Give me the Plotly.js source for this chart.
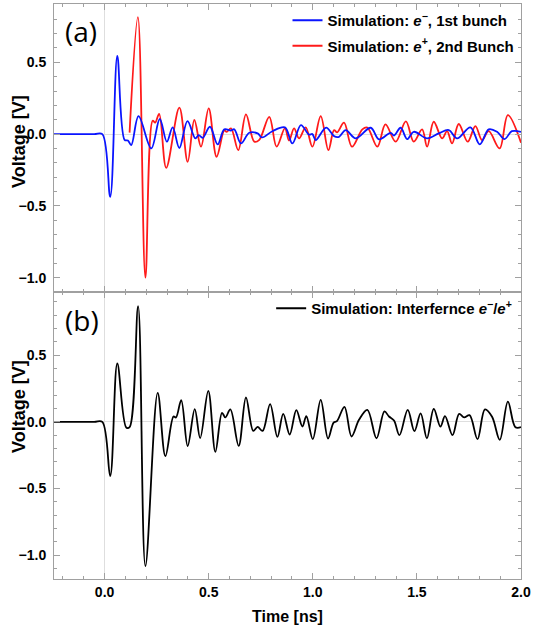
<!DOCTYPE html>
<html>
<head>
<meta charset="utf-8">
<script src="https://cdn.plot.ly/plotly-3.0.1.min.js"></script>
<style>html,body{margin:0;padding:0;background:#fff;}#chart{width:533px;height:629px;}</style>
</head>
<body>
<div id="chart"></div>
<script>
// ---- Data (time in ns, voltage in V) ----
const blueTime = [-0.243,-0.05,-0.011,0.027,0.061,0.096,0.112,0.128,0.163,0.224,0.265,0.299,0.327,0.359,0.398,0.436,0.452,0.471,0.506,0.543,0.575,0.607,0.623,0.655,0.695,0.735,0.756,0.806,0.866,0.902,0.943,0.982,0.998,1.014,1.064,1.102,1.126,1.158,1.206,1.278,1.318,1.374,1.39,1.422,1.453,1.485,1.549,1.605,1.653,1.693,1.757,1.802,1.845,1.885,1.921,1.956,2.0];
const blueVolt = [0,0,0,-0.437,0.544,-0.04,-0.045,-0.077,0.125,-0.1,0.105,-0.053,0.047,-0.097,0.09,-0.03,-0.007,-0.026,0.051,-0.072,0.033,0.025,0.033,-0.065,0.009,0.005,-0.023,0.02,0.047,-0.065,0.063,-0.004,0.0,-0.042,0.045,-0.014,-0.019,0.028,-0.03,0.044,-0.037,0.009,-0.01,0.044,-0.035,0.016,-0.03,0.005,0.028,-0.03,0.047,-0.072,0.033,0.016,-0.035,0.02,0.015];

const redTime = [0.12,0.16,0.196,0.231,0.243,0.262,0.296,0.359,0.399,0.431,0.463,0.5,0.538,0.575,0.586,0.607,0.642,0.679,0.719,0.743,0.791,0.826,0.866,0.886,0.91,0.934,0.966,0.998,1.038,1.075,1.102,1.117,1.15,1.188,1.238,1.262,1.31,1.349,1.398,1.447,1.485,1.525,1.549,1.581,1.621,1.645,1.669,1.701,1.744,1.781,1.813,1.845,1.897,1.937,2.0];
const redVolt = [0.01,0.814,-1.0,0.093,0.08,0.14,-0.235,0.184,-0.193,0.098,-0.088,0.179,-0.158,0.028,0.015,0.04,-0.112,0.137,-0.053,-0.04,0.12,-0.088,0.04,-0.045,0.04,-0.03,0.047,-0.088,0.125,-0.112,0.028,0.012,0.079,-0.088,0.033,0.045,-0.088,0.067,-0.053,0.088,-0.053,0.033,-0.088,0.086,-0.03,0.02,-0.065,0.07,-0.053,0.056,-0.042,0.02,-0.1,0.132,-0.06];

const sumTime = [-0.243,-0.05,-0.011,0.027,0.061,0.104,0.12,0.161,0.196,0.255,0.292,0.331,0.343,0.368,0.399,0.433,0.459,0.498,0.532,0.564,0.58,0.604,0.644,0.679,0.714,0.735,0.759,0.795,0.83,0.858,0.889,0.921,0.95,0.969,1.0,1.038,1.073,1.1,1.116,1.152,1.186,1.222,1.262,1.306,1.344,1.366,1.39,1.416,1.456,1.488,1.518,1.548,1.581,1.613,1.635,1.671,1.703,1.727,1.753,1.791,1.827,1.861,1.898,1.937,1.973,2.0];
const sumVolt = [0,0,0,-0.407,0.438,-0.042,-0.04,0.868,-1.083,0.218,-0.257,0.04,0.033,0.163,-0.182,0.095,-0.122,0.233,-0.225,0.068,0.033,0.093,-0.18,0.183,-0.068,-0.038,-0.068,0.133,-0.113,0.06,-0.095,0.088,-0.035,0.042,-0.13,0.165,-0.125,-0.005,0.005,0.113,-0.11,0.015,0.09,-0.123,0.078,0.04,0.01,-0.1,0.09,-0.07,0.063,-0.123,0.097,-0.035,0.043,-0.1,0.06,0.033,0.05,-0.13,0.093,0.038,-0.135,0.152,-0.04,-0.04];

const seriesNames = ["Simulation: <i>e</i><sup>−</sup>, 1st bunch", "Simulation: <i>e</i><sup>+</sup>, 2nd Bunch", "Simulation: Interfernce <i>e</i><sup>−</sup>/<i>e</i><sup>+</sup>"];
const xTickVals = [0, 0.5, 1.0, 1.5, 2.0];
const xTickText = ["0.0", "0.5", "1.0", "1.5", "2.0"];
const yTickVals = [-1.0, -0.5, 0.0, 0.5];
const yTickText = ["−1.0", "−0.5", "0.0", "0.5"];
const panelLabels = ["(a)", "(b)"];
const axisTitles = {x: "Time [ns]", y: "Voltage [V]"};

// ---- Styling ----
const frameColor = "#a0a0a0";
const sans = "Liberation Sans, Arial, sans-serif";
const tickFont = {family: sans, size: 14, color: "#000", weight: "bold"};
const legendFont = {family: sans, size: 15, color: "#000", weight: "bold"};

const traces = [
  {x: redTime, y: redVolt, xaxis: "x", yaxis: "y", mode: "lines", name: seriesNames[1],
   line: {color: "#ff1a1a", width: 1.8, shape: "spline", smoothing: 1}, legend: "legend", legendgroup: "b", legendrank: 2},
  {x: blueTime, y: blueVolt, xaxis: "x", yaxis: "y", mode: "lines", name: seriesNames[0],
   line: {color: "#0a14ff", width: 1.8, shape: "spline", smoothing: 1}, legend: "legend", legendgroup: "a", legendrank: 1},
  {x: sumTime, y: sumVolt, xaxis: "x2", yaxis: "y2", mode: "lines", name: seriesNames[2],
   line: {color: "#000000", width: 1.8, shape: "spline", smoothing: 1}, legend: "legend2"}
];

function xAxis(showLabels, anchor) {
  return {
    range: [-0.243, 2.0], anchor: anchor, domain: [0, 1],
    tickvals: xTickVals, ticktext: xTickText, showticklabels: showLabels,
    ticks: "inside", ticklen: 6, tickcolor: frameColor, tickwidth: 1,
    minor: {dtick: 0.1, tick0: 0, ticks: "inside", ticklen: 3, tickcolor: frameColor},
    showline: true, linecolor: frameColor, linewidth: 1, mirror: "allticks",
    showgrid: false, zeroline: true, zerolinecolor: "#dedede", zerolinewidth: 1,
    tickfont: tickFont, fixedrange: true
  };
}
function yAxis(range, domain, anchor) {
  return {
    range: range, domain: domain, anchor: anchor,
    tickvals: yTickVals, ticktext: yTickText,
    ticks: "inside", ticklen: 6, tickcolor: frameColor, tickwidth: 1,
    minor: {dtick: 0.1, tick0: 0, ticks: "inside", ticklen: 3, tickcolor: frameColor},
    showline: true, linecolor: frameColor, linewidth: 1, mirror: "allticks",
    showgrid: false, zeroline: true, zerolinecolor: "#dedede", zerolinewidth: 1,
    tickfont: tickFont, ticklabelstandoff: 4, fixedrange: true
  };
}

const split = 287 / 575;
const layout = {
  width: 533, height: 629,
  margin: {l: 54, r: 12, t: 4, b: 50},
  paper_bgcolor: "#fff", plot_bgcolor: "#fff",
  showlegend: true,
  xaxis: xAxis(false, "y"),
  yaxis: yAxis([-1.1, 0.906], [split, 1], "x"),
  xaxis2: Object.assign(xAxis(true, "y2"), {title: {text: axisTitles.x, font: {family: sans, size: 16, color: "#000", weight: "bold"}, standoff: 12}}),
  yaxis2: yAxis([-1.18, 0.975], [0, split], "x2"),
  legend: {x: 0.5, y: 1.0, xanchor: "left", yanchor: "top", bgcolor: "rgba(0,0,0,0)",
           font: legendFont, tracegroupgap: 3, traceorder: "grouped"},
  legend2: {x: 0.465, y: split, xanchor: "left", yanchor: "top", bgcolor: "rgba(0,0,0,0)",
           font: legendFont},
  annotations: [
    {text: panelLabels[0], xref: "paper", yref: "paper", x: 0.02, y: 0.99, xanchor: "left", yanchor: "top", showarrow: false,
     font: {family: "Open Sans, sans-serif", size: 28, color: "#000"}},
    {text: panelLabels[1], xref: "paper", yref: "paper", x: 0.02, y: split - 0.012, xanchor: "left", yanchor: "top", showarrow: false,
     font: {family: "Open Sans, sans-serif", size: 28, color: "#000"}},
    {text: axisTitles.y, xref: "paper", yref: "paper", x: -0.075, y: (579 - 141) / 575, xanchor: "center", yanchor: "middle", textangle: -90, showarrow: false,
     font: {family: sans, size: 18, color: "#000", weight: "bold"}},
    {text: axisTitles.y, xref: "paper", yref: "paper", x: -0.075, y: (579 - 406) / 575, xanchor: "center", yanchor: "middle", textangle: -90, showarrow: false,
     font: {family: sans, size: 18, color: "#000", weight: "bold"}}
  ]
};

Plotly.newPlot("chart", traces, layout, {staticPlot: true, displayModeBar: false});
</script>
</body>
</html>
